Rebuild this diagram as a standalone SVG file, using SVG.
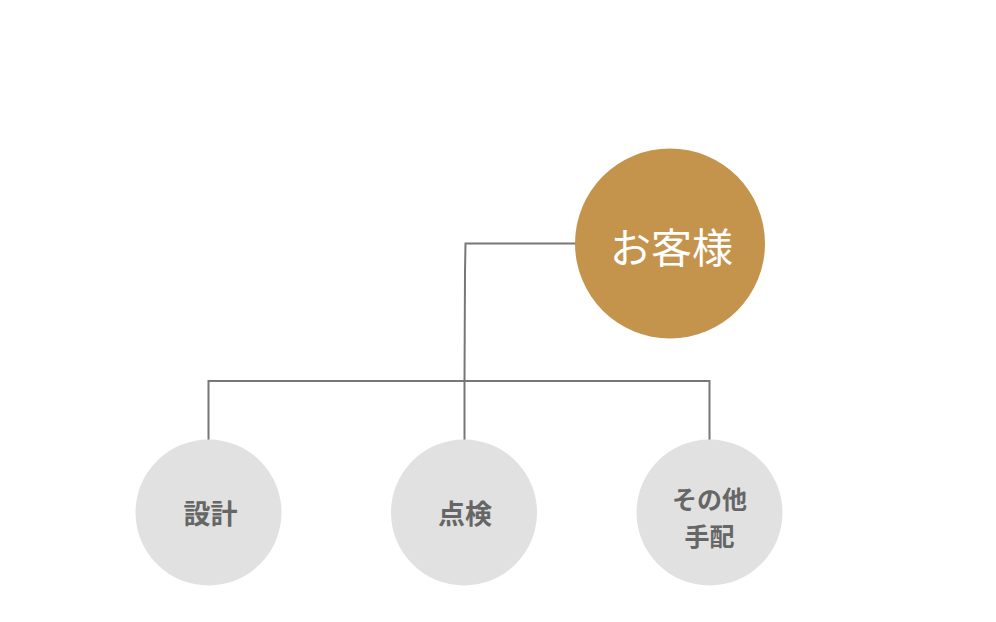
<svg xmlns="http://www.w3.org/2000/svg" width="996" height="622" viewBox="0 0 996 622">
<style>
.conn{fill:none;stroke:#777777;stroke-width:2}
.sub{fill:#E1E1E1}
.subt{font-family:"Noto Sans CJK JP","Noto Sans",sans-serif;font-size:27px;font-weight:700;fill:#666666;text-anchor:middle}
.subt2{font-family:"Noto Sans CJK JP","Noto Sans",sans-serif;font-size:25px;font-weight:700;fill:#666666;text-anchor:middle}
.maint{font-family:"Noto Sans CJK JP","Noto Sans",sans-serif;font-size:41px;font-weight:400;fill:#FFFFFF;text-anchor:middle}
</style>
<rect width="996" height="622" fill="#FFFFFF"/>
<g id="connectors">
<path class="conn" d="M576,243.5 L465.5,243.5 L465,272 L464.5,380"/>
<path class="conn" d="M208.5,440 L208.5,381 L709.5,381 L709.5,440"/>
<path class="conn" d="M464.5,381 L464.5,440"/>
</g>
<g id="node-customer">
<circle cx="670" cy="243.5" r="95" fill="#C4944D"/>
<text class="maint" x="671.5" y="263">お客様</text>
</g>
<g id="node-design">
<circle class="sub" cx="208.5" cy="512.5" r="73"/>
<text class="subt" x="210.5" y="524">設計</text>
</g>
<g id="node-inspection">
<circle class="sub" cx="464" cy="512.5" r="73"/>
<text class="subt" x="465" y="524">点検</text>
</g>
<g id="node-other">
<circle class="sub" cx="709.5" cy="512.5" r="73"/>
<text class="subt2" x="709.5" y="509">その他</text>
<text class="subt2" x="709.5" y="546">手配</text>
</g>
</svg>
